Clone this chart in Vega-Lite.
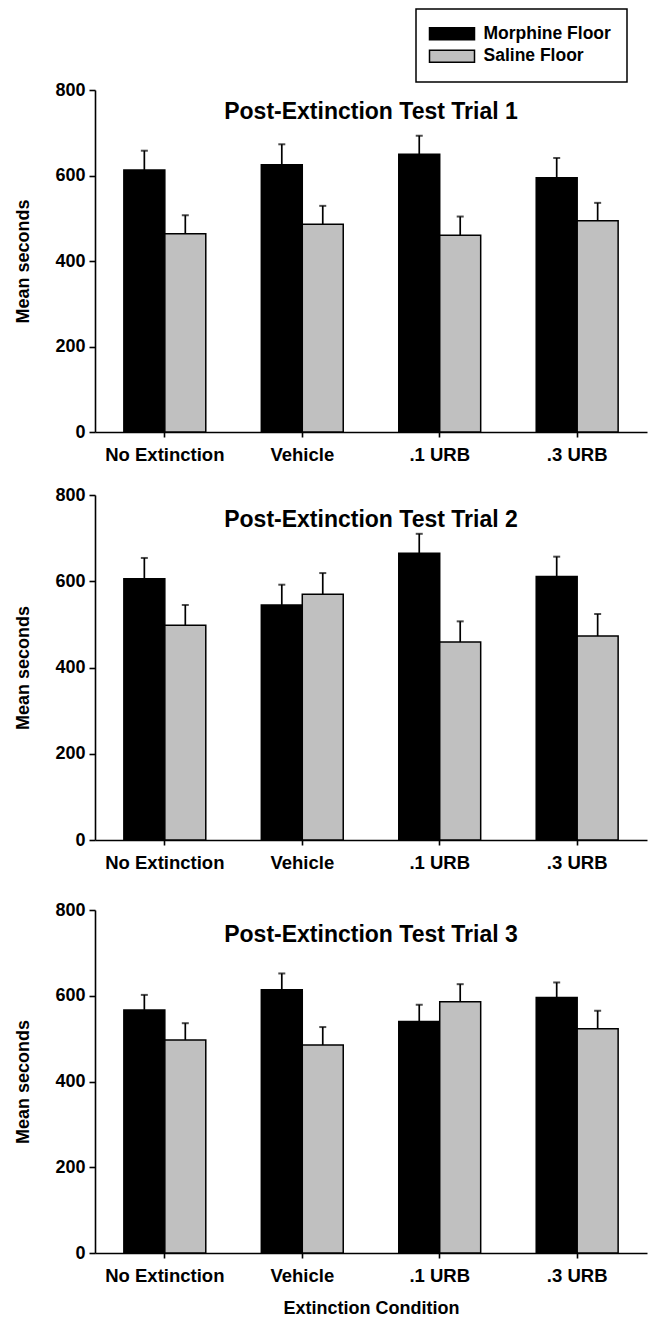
{
  "$schema": "https://vega.github.io/schema/vega-lite/v6.json",
  "padding": {"top": 8, "left": 14, "right": 5, "bottom": 2},
  "background": "white",
  "config": {
    "font": "Liberation Sans",
    "view": {"stroke": null},
    "axis": {
      "domainColor": "black", "domainWidth": 1.6,
      "tickColor": "black", "tickWidth": 1.6,
      "labelColor": "black", "labelFont": "Liberation Sans", "labelFontWeight": "bold", "labelFontSize": 18,
      "titleColor": "black", "titleFont": "Liberation Sans", "titleFontWeight": "bold", "titleFontSize": 18,
      "grid": false
    },
    "title": {"font": "Liberation Sans", "fontWeight": "bold", "fontSize": 23, "color": "black", "anchor": "middle", "baseline": "alphabetic"}
  },
  "data": {
    "values": [
      {"trial": 1, "condition": "No Extinction", "floor": "Morphine Floor", "mean": 613, "upper": 658},
      {"trial": 1, "condition": "No Extinction", "floor": "Saline Floor", "mean": 464, "upper": 507},
      {"trial": 1, "condition": "Vehicle", "floor": "Morphine Floor", "mean": 625, "upper": 673},
      {"trial": 1, "condition": "Vehicle", "floor": "Saline Floor", "mean": 486, "upper": 529},
      {"trial": 1, "condition": ".1 URB", "floor": "Morphine Floor", "mean": 650, "upper": 693},
      {"trial": 1, "condition": ".1 URB", "floor": "Saline Floor", "mean": 460, "upper": 504},
      {"trial": 1, "condition": ".3 URB", "floor": "Morphine Floor", "mean": 595, "upper": 641},
      {"trial": 1, "condition": ".3 URB", "floor": "Saline Floor", "mean": 494, "upper": 536},
      {"trial": 2, "condition": "No Extinction", "floor": "Morphine Floor", "mean": 606, "upper": 654},
      {"trial": 2, "condition": "No Extinction", "floor": "Saline Floor", "mean": 498, "upper": 545},
      {"trial": 2, "condition": "Vehicle", "floor": "Morphine Floor", "mean": 545, "upper": 592},
      {"trial": 2, "condition": "Vehicle", "floor": "Saline Floor", "mean": 570, "upper": 619},
      {"trial": 2, "condition": ".1 URB", "floor": "Morphine Floor", "mean": 665, "upper": 710},
      {"trial": 2, "condition": ".1 URB", "floor": "Saline Floor", "mean": 459, "upper": 507},
      {"trial": 2, "condition": ".3 URB", "floor": "Morphine Floor", "mean": 611, "upper": 657},
      {"trial": 2, "condition": ".3 URB", "floor": "Saline Floor", "mean": 473, "upper": 524},
      {"trial": 3, "condition": "No Extinction", "floor": "Morphine Floor", "mean": 567, "upper": 602},
      {"trial": 3, "condition": "No Extinction", "floor": "Saline Floor", "mean": 497, "upper": 536},
      {"trial": 3, "condition": "Vehicle", "floor": "Morphine Floor", "mean": 614, "upper": 652},
      {"trial": 3, "condition": "Vehicle", "floor": "Saline Floor", "mean": 485, "upper": 527},
      {"trial": 3, "condition": ".1 URB", "floor": "Morphine Floor", "mean": 540, "upper": 579},
      {"trial": 3, "condition": ".1 URB", "floor": "Saline Floor", "mean": 586, "upper": 627},
      {"trial": 3, "condition": ".3 URB", "floor": "Morphine Floor", "mean": 596, "upper": 631},
      {"trial": 3, "condition": ".3 URB", "floor": "Saline Floor", "mean": 523, "upper": 565}
    ]
  },
  "resolve": {"legend": {"color": "independent"}},
  "spacing": 20,
  "vconcat": [
    {
      "width": 552, "height": 342,
      "title": {"text": "Post-Extinction Test Trial 1", "offset": -116},
      "transform": [{"filter": "datum.trial == 1"}],
      "encoding": {
        "x": {"field": "condition", "type": "nominal", "sort": ["No Extinction", "Vehicle", ".1 URB", ".3 URB"],
              "scale": {"paddingInner": 0.404, "paddingOuter": 0.21},
              "axis": {"title": null, "labelAngle": 0, "tickSize": 5, "labelPadding": 8, "labelFontSize": 18.5, "minExtent": 34}},
        "xOffset": {"field": "floor", "type": "nominal", "sort": ["Morphine Floor", "Saline Floor"], "scale": {"paddingInner": 0, "paddingOuter": 0}},
        "y": {"field": "mean", "type": "quantitative",
              "scale": {"domain": [0, 800], "nice": false},
              "axis": {"title": "Mean seconds", "values": [0, 200, 400, 600, 800], "tickSize": 6, "labelPadding": 4, "titlePadding": 22}}
      },
      "layer": [
        {"mark": {"type": "rule", "color": "black", "strokeWidth": 1.7},
         "encoding": {"y2": {"field": "upper"}}},
        {"mark": {"type": "tick", "orient": "horizontal", "color": "black", "size": 7, "thickness": 2},
         "encoding": {"y": {"field": "upper", "type": "quantitative"}}},
        {"mark": {"type": "bar", "stroke": "black", "strokeWidth": 1.5, "opacity": 1},
         "encoding": {
           "color": {"field": "floor", "type": "nominal",
                     "scale": {"domain": ["Morphine Floor", "Saline Floor"], "range": ["#000000", "#c0c0c0"]},
                     "legend": {"title": null, "orient": "none", "legendX": 321, "legendY": -81,
                                "symbolType": "M-3.75,-1H3.75V1H-3.75Z", "symbolSize": 144,
                                "symbolStrokeColor": "black", "symbolStrokeWidth": 1.5, "symbolOpacity": 1,
                                "labelFont": "Liberation Sans", "labelFontWeight": "bold", "labelFontSize": 17.5, "labelColor": "black",
                                "labelOffset": 34, "rowPadding": 3.5, "padding": 16,
                                "strokeColor": "black", "fillColor": "white", "cornerRadius": 0,
                                "encode": {
                                  "legend": {"update": {"strokeWidth": {"value": 1.5}}},
                                  "symbols": {"update": {"x": {"value": 20}}}
                                }}}
         }}
      ]
    },
    {
      "width": 552, "height": 345,
      "title": {"text": "Post-Extinction Test Trial 2", "offset": -46},
      "transform": [{"filter": "datum.trial == 2"}],
      "encoding": {
        "x": {"field": "condition", "type": "nominal", "sort": ["No Extinction", "Vehicle", ".1 URB", ".3 URB"],
              "scale": {"paddingInner": 0.404, "paddingOuter": 0.21},
              "axis": {"title": null, "labelAngle": 0, "tickSize": 5, "labelPadding": 8, "labelFontSize": 18.5, "minExtent": 41}},
        "xOffset": {"field": "floor", "type": "nominal", "sort": ["Morphine Floor", "Saline Floor"], "scale": {"paddingInner": 0, "paddingOuter": 0}},
        "y": {"field": "mean", "type": "quantitative",
              "scale": {"domain": [0, 800], "nice": false},
              "axis": {"title": "Mean seconds", "values": [0, 200, 400, 600, 800], "tickSize": 6, "labelPadding": 4, "titlePadding": 22}}
      },
      "layer": [
        {"mark": {"type": "rule", "color": "black", "strokeWidth": 1.7},
         "encoding": {"y2": {"field": "upper"}}},
        {"mark": {"type": "tick", "orient": "horizontal", "color": "black", "size": 7, "thickness": 2},
         "encoding": {"y": {"field": "upper", "type": "quantitative"}}},
        {"mark": {"type": "bar", "stroke": "black", "strokeWidth": 1.5, "opacity": 1},
         "encoding": {
           "color": {"field": "floor", "type": "nominal",
                     "scale": {"domain": ["Morphine Floor", "Saline Floor"], "range": ["#000000", "#c0c0c0"]},
                     "legend": null}
         }}
      ]
    },
    {
      "width": 552, "height": 343,
      "title": {"text": "Post-Extinction Test Trial 3", "offset": -46},
      "transform": [{"filter": "datum.trial == 3"}],
      "encoding": {
        "x": {"field": "condition", "type": "nominal", "sort": ["No Extinction", "Vehicle", ".1 URB", ".3 URB"],
              "scale": {"paddingInner": 0.404, "paddingOuter": 0.21},
              "axis": {"title": "Extinction Condition", "titlePadding": 15, "labelAngle": 0, "tickSize": 5, "labelPadding": 8, "labelFontSize": 18.5}},
        "xOffset": {"field": "floor", "type": "nominal", "sort": ["Morphine Floor", "Saline Floor"], "scale": {"paddingInner": 0, "paddingOuter": 0}},
        "y": {"field": "mean", "type": "quantitative",
              "scale": {"domain": [0, 800], "nice": false},
              "axis": {"title": "Mean seconds", "values": [0, 200, 400, 600, 800], "tickSize": 6, "labelPadding": 4, "titlePadding": 22}}
      },
      "layer": [
        {"mark": {"type": "rule", "color": "black", "strokeWidth": 1.7},
         "encoding": {"y2": {"field": "upper"}}},
        {"mark": {"type": "tick", "orient": "horizontal", "color": "black", "size": 7, "thickness": 2},
         "encoding": {"y": {"field": "upper", "type": "quantitative"}}},
        {"mark": {"type": "bar", "stroke": "black", "strokeWidth": 1.5, "opacity": 1},
         "encoding": {
           "color": {"field": "floor", "type": "nominal",
                     "scale": {"domain": ["Morphine Floor", "Saline Floor"], "range": ["#000000", "#c0c0c0"]},
                     "legend": null}
         }}
      ]
    }
  ]
}
